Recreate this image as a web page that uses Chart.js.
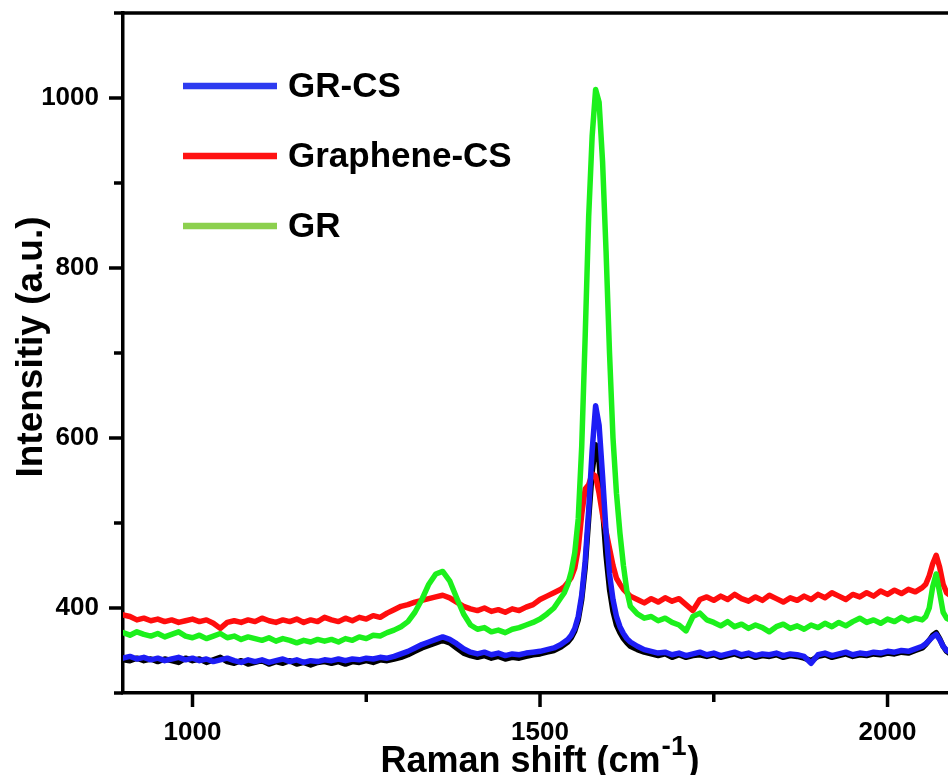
<!DOCTYPE html>
<html>
<head>
<meta charset="utf-8">
<script src="https://cdn.jsdelivr.net/npm/chart.js@4.4.1/dist/chart.umd.min.js"></script>
<style>
  html, body { margin: 0; padding: 0; background: #fff; overflow: hidden; }
  #wrap { width: 948px; height: 775px; position: relative; }
</style>
</head>
<body>
<div id="wrap"><canvas id="raman"></canvas></div>
<script>
// Raman shift (cm-1), shared by all spectra
const shift = [
  900, 910, 920, 930, 940, 950, 960, 970, 980, 990,
  1000, 1010, 1020, 1030, 1040, 1050, 1060, 1070, 1080, 1090,
  1100, 1110, 1120, 1130, 1140, 1150, 1160, 1170, 1180, 1190,
  1200, 1210, 1220, 1230, 1240, 1250, 1260, 1270, 1280, 1290,
  1300, 1310, 1320, 1330, 1340, 1350, 1360, 1370, 1380, 1390,
  1400, 1410, 1420, 1430, 1440, 1450, 1460, 1470, 1480, 1490,
  1500, 1510, 1520, 1530,
  1535, 1540, 1545, 1550, 1555, 1560, 1565, 1570, 1575, 1580,
  1585, 1590, 1595, 1600, 1605, 1610, 1615, 1620, 1625, 1630,
  1640, 1650, 1660, 1670, 1680, 1690, 1700, 1710, 1720, 1730,
  1740, 1750, 1760, 1770, 1780, 1790, 1800, 1810, 1820, 1830,
  1840, 1850, 1860, 1870, 1880, 1890, 1900, 1910, 1920, 1930,
  1940, 1950, 1960, 1970, 1980, 1990, 2000, 2010, 2020, 2030,
  2040, 2050,
  2055, 2060, 2065, 2070, 2075, 2080, 2085, 2090
];

// GR-CS (blue)
const grCs = [
  341, 343, 340, 342, 339, 341, 338, 340, 342, 339,
  341, 338, 340, 337, 339, 341, 338, 336, 339, 337,
  339, 336, 338, 340, 337, 339, 336, 338, 337, 339,
  338, 340, 338, 340, 339, 341, 340, 342, 341, 343,
  346, 349, 353, 357, 360, 363, 366, 363, 358, 352,
  348, 346, 348, 345, 347, 344, 346, 345, 347, 348,
  349, 351, 353, 357,
  360, 363, 368, 376, 390, 415, 455, 515, 585, 638,
  615, 555, 490, 440, 410, 390, 378, 370, 364, 360,
  355, 351, 349, 347, 348, 345, 347, 344, 346, 348,
  345, 347, 344, 346, 348, 345, 347, 344, 346, 345,
  347, 344, 346, 345, 343, 335, 345, 347, 344, 346,
  348, 345, 347, 346, 348, 347, 349, 348, 350, 349,
  352, 355,
  358, 362, 366, 369, 363, 355, 350, 348
];

// unlabeled black spectrum (under the blue one)
const bare = [
  339, 338, 341, 338, 340, 337, 340, 338, 336, 341,
  338, 340, 336, 339, 342, 337, 335, 338, 334, 336,
  338, 334, 337, 335, 338, 334, 336, 333, 336, 337,
  335, 337, 334, 337, 336, 338, 336, 339, 338, 340,
  342, 345, 349, 353, 356, 359, 362, 359, 353, 347,
  344, 342, 344, 341, 343, 340, 342, 341, 343, 345,
  346, 348, 350, 354,
  357, 360, 365, 373, 386, 410, 448, 505, 560, 592,
  572, 518, 462, 422, 396, 380, 371, 364, 359, 355,
  351, 348, 346, 344, 346, 342, 345, 342, 344, 345,
  343, 345, 342, 344, 346, 343, 345, 342, 344, 343,
  345, 342, 344, 343, 341, 338, 343, 345, 342, 344,
  346, 343, 345, 344, 346, 345, 347, 346, 348, 347,
  350, 353,
  357, 362, 368, 371, 364, 355, 349, 346
];

// Graphene-CS (red)
const grapheneCs = [
  392, 390, 386, 388, 385, 387, 384, 386, 383, 385,
  387, 384, 386, 382, 376, 383, 385, 383, 386, 384,
  388, 385, 383, 386, 384, 387, 383, 386, 384, 389,
  386, 384, 388, 385, 389, 387, 391, 389, 394, 398,
  402, 404, 407, 409, 411, 413, 415, 412, 407, 402,
  399, 397, 400, 396, 398, 395, 399, 397, 401, 404,
  410, 414, 418, 422,
  425, 430, 436, 447, 470, 510, 540, 545, 558, 555,
  535, 510, 490, 470, 450, 435, 428, 422, 418, 414,
  410, 406, 411, 407, 412, 408, 411, 404, 397, 410,
  413, 409, 414, 410, 416, 411, 408, 413, 409, 415,
  411, 407, 412, 409, 414, 410, 416, 412, 418, 414,
  410, 416, 413, 418, 414, 420, 416, 421, 417, 422,
  419, 424,
  428, 438, 452, 462, 448, 428, 418, 415
];

// GR (green)
const gr = [
  371, 368, 372, 369, 367, 370, 366, 369, 372, 367,
  365, 368, 364, 367, 370, 365, 367, 363, 366, 364,
  362, 365, 361, 364, 362, 359, 362, 360, 363, 361,
  363, 360, 364, 362, 366, 364, 368, 367, 371, 374,
  378, 384, 395, 410, 428, 440, 443, 432, 412, 393,
  380, 375, 377, 372, 374, 371, 375, 377, 380, 383,
  387, 393, 400, 412,
  418, 428, 443, 465, 505, 590, 720, 860, 955, 1010,
  995, 925, 820, 700, 600, 535, 488, 450, 420, 402,
  393, 388, 390, 385, 388, 383, 380, 373, 390, 394,
  386, 383, 379, 384, 378, 381, 376, 380, 377, 372,
  378, 381, 376, 379, 375, 380, 377, 382, 378, 383,
  379, 384, 388, 383, 386, 382, 387, 384, 389, 385,
  388, 386,
  390, 400, 425, 440, 418, 395, 388, 386
];

const xMajor = [1000, 1500, 2000];
const xMinor = [1250, 1750];
const yMajor = [400, 600, 800, 1000];
const yMinor = [300, 500, 700, 900, 1100];
const legendNames = ['GR-CS', 'Graphene-CS', 'GR'];
const legendColors = ['#2d3bf0', '#ff1212', '#8cd04e'];

const FONT = '"Liberation Sans", Arial, sans-serif';

const pts = arr => shift.map((x, i) => ({ x: x, y: arr[i] }));

function spectrum(label, data, color) {
  return {
    label: label,
    data: pts(data),
    borderColor: color,
    borderWidth: 5.5,
    pointRadius: 0,
    borderJoinStyle: 'round',
    borderCapStyle: 'round',
    fill: false,
    tension: 0
  };
}

// chart.js keeps room for the end labels; the frame here goes right to the edges
function noPad(s) {
  s.paddingTop = 0; s.paddingBottom = 0; s.paddingLeft = 0; s.paddingRight = 0;
}

// ticks, top frame, legend and axis titles
const decor = {
  id: 'decor',
  afterDraw(chart) {
    const ctx = chart.ctx;
    const a = chart.chartArea;
    const xs = chart.scales.x, ys = chart.scales.y;
    ctx.save();
    ctx.strokeStyle = '#000';
    ctx.lineWidth = 3.5;
    ctx.lineCap = 'butt';

    // top frame
    ctx.beginPath();
    ctx.moveTo(a.left - 1.75, a.top);
    ctx.lineTo(a.right, a.top);
    ctx.stroke();

    const tick = (x1, y1, x2, y2) => {
      ctx.beginPath(); ctx.moveTo(x1, y1); ctx.lineTo(x2, y2); ctx.stroke();
    };
    yMajor.forEach(v => { const y = ys.getPixelForValue(v); tick(a.left, y, a.left - 14, y); });
    yMinor.forEach(v => { const y = ys.getPixelForValue(v); tick(a.left, y, a.left - 9, y); });
    xMajor.forEach(v => { const x = xs.getPixelForValue(v); tick(x, a.bottom, x, a.bottom + 14); });
    xMinor.forEach(v => { const x = xs.getPixelForValue(v); tick(x, a.bottom, x, a.bottom + 9); });

    // legend
    ctx.lineWidth = 6.5;
    ctx.font = 'bold 35px ' + FONT;
    ctx.fillStyle = '#000';
    ctx.textBaseline = 'middle';
    legendNames.forEach((name, i) => {
      const y = 86 + i * 70;
      ctx.strokeStyle = legendColors[i];
      tick(183, y, 277, y);
      ctx.fillText(name, 288, y + 1);
    });

    // x title with superscript
    ctx.textBaseline = 'alphabetic';
    const big = 'bold 36px ' + FONT, sup = 'bold 28px ' + FONT;
    const t1 = 'Raman shift (cm', t2 = '-1', t3 = ')';
    ctx.font = big; const w1 = ctx.measureText(t1).width, w3 = ctx.measureText(t3).width;
    ctx.font = sup; const w2 = ctx.measureText(t2).width;
    let x0 = 539 - (w1 + w2 + w3) / 2;
    ctx.font = big; ctx.fillText(t1, x0, 772);
    ctx.font = sup; ctx.fillText(t2, x0 + w1 + 1, 755);
    ctx.font = big; ctx.fillText(t3, x0 + w1 + w2 + 2, 772);

    // y title
    ctx.translate(42, 347);
    ctx.rotate(-Math.PI / 2);
    ctx.textAlign = 'center';
    ctx.font = 'bold 37px ' + FONT;
    ctx.fillText('Intensitiy (a.u.)', 0, 0);
    ctx.restore();
  }
};

new Chart(document.getElementById('raman'), {
  type: 'line',
  data: {
    datasets: [
      spectrum('GR-CS', grCs, '#1d1df5'),
      spectrum('GR', gr, '#1cf01c'),
      spectrum('Graphene-CS', grapheneCs, '#ff0d0d'),
      spectrum('', bare, '#000000')
    ]
  },
  options: {
    responsive: true,
    maintainAspectRatio: false,
    animation: false,
    layout: { padding: { left: 0, top: 13, right: 0, bottom: 0 } },
    plugins: { legend: { display: false }, tooltip: { enabled: false } },
    scales: {
      x: {
        type: 'linear',
        min: 900,
        max: 2087,
        afterBuildTicks: s => { s.ticks = xMajor.map(v => ({ value: v })); },
        afterFit: s => { s.height = 82; noPad(s); },
        grid: { display: false, drawTicks: false },
        border: { display: true, color: '#000', width: 3.5 },
        ticks: {
          autoSkip: false,
          maxRotation: 0,
          padding: 24,
          color: '#000',
          font: { family: FONT, size: 26, weight: 'bold' },
          callback: v => String(v)
        }
      },
      y: {
        min: 300,
        max: 1100,
        afterBuildTicks: s => { s.ticks = yMajor.map(v => ({ value: v })); },
        afterFit: s => { s.width = 123; noPad(s); },
        grid: { display: false, drawTicks: false },
        border: { display: true, color: '#000', width: 3.5 },
        ticks: {
          autoSkip: false,
          padding: 24,
          color: '#000',
          font: { family: FONT, size: 26, weight: 'bold' },
          callback: v => String(v)
        }
      }
    }
  },
  plugins: [decor]
});
</script>
</body>
</html>
